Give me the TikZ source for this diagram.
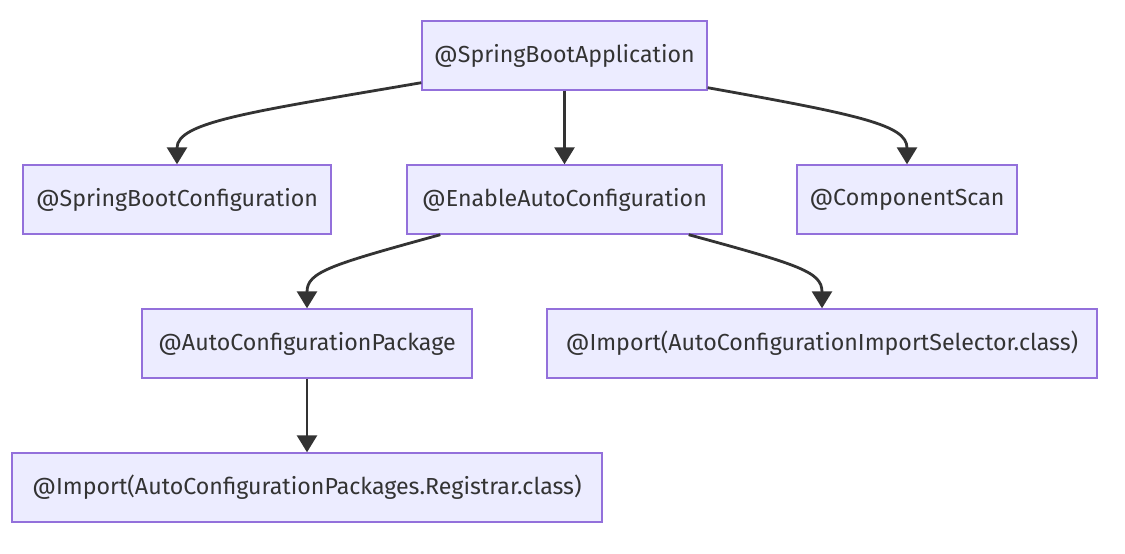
\documentclass[tikz,border=0pt]{standalone}
\usepackage{fontspec}
\setmainfont{Fira Sans}
\usetikzlibrary{arrows.meta,calc}
\begin{document}
\begin{tikzpicture}[x=1pt,y=-1pt,
  box/.style={draw=mmborder,fill=mmfill,line width=1.4pt,inner sep=0pt,minimum height=69pt,font=\fontsize{23.2}{26}\selectfont,text=mmtext},
  link/.style={draw=mmline,line width=2.8pt,-{Triangle[width=20pt,length=17pt]}}]
\definecolor{mmborder}{HTML}{9370DB}
\definecolor{mmfill}{HTML}{ECECFF}
\definecolor{mmline}{HTML}{333333}
\definecolor{mmtext}{HTML}{333333}
\useasboundingbox[fill=white] (0,0) rectangle (1125,554);
\node[box,minimum width=285pt] (sba) at (564.5,55.5) {@SpringBootApplication};
\node[box,minimum width=308pt] (sbc) at (177,199.5) {@SpringBootConfiguration};
\node[box,minimum width=315pt] (eac) at (564.5,199.5) {@EnableAutoConfiguration};
\node[box,minimum width=220pt] (cs) at (907,199.5) {@ComponentScan};
\node[box,minimum width=330pt] (acp) at (307,343.5) {@AutoConfigurationPackage};
\node[box,minimum width=550pt] (ais) at (822,343.5) {@Import(AutoConfigurationImportSelector.class)};
\node[box,minimum width=590pt] (reg) at (307,487.5) {@Import(AutoConfigurationPackages.Registrar.class)};
\draw[link] ($(sba.south west)+(0,-8)$) .. controls (250,112) and (177,122) .. (sbc.north);
\draw[link] (sba.south) -- (eac.north);
\draw[link] ($(sba.south east)+(0,-3)$) .. controls (860,115) and (907,125) .. (cs.north);
\draw[link] ($(eac.south west)+(34,0)$) .. controls (330,265) and (307,272) .. (acp.north);
\draw[link] ($(eac.south east)+(-34,0)$) .. controls (800,265) and (822,272) .. (ais.north);
\draw[link] (acp.south) -- (reg.north);
\end{tikzpicture}
\end{document}
